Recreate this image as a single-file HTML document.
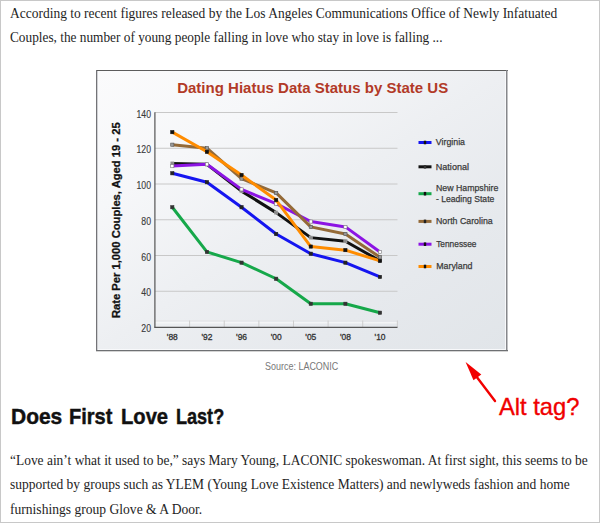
<!DOCTYPE html>
<html><head><meta charset="utf-8"><style>
html,body{margin:0;padding:0;background:#fff;overflow:hidden;}
#page{position:relative;width:600px;height:523px;}
svg{display:block;position:absolute;left:0;top:0;}
.t{position:absolute;display:block;margin:0;padding:0;white-space:nowrap;transform-origin:0 0;}
.hd,.pp{margin:0;padding:0;font-size:0;}
</style></head><body>
<div id="page">
<svg width="600" height="523" viewBox="0 0 600 523">
<defs><linearGradient id="bg" x1="0" y1="0" x2="1" y2="1"><stop offset="0" stop-color="#fbfbfc"/><stop offset="0.25" stop-color="#f6f7f9"/><stop offset="0.5" stop-color="#edeff2"/><stop offset="0.75" stop-color="#e6e9ed"/><stop offset="1" stop-color="#e1e5e9"/></linearGradient></defs>
<rect x="0.5" y="0.5" width="599" height="522" fill="#fff" stroke="#c8c8c8" stroke-width="1"/>
<rect x="97" y="71" width="409" height="279" fill="url(#bg)"/>
<line x1="505.5" y1="71" x2="505.5" y2="350" stroke="#f8f9fb" stroke-width="1"/>
<line x1="97" y1="349.5" x2="506" y2="349.5" stroke="#f8f9fb" stroke-width="1"/>
<line x1="97.5" y1="71" x2="97.5" y2="350" stroke="#d0d1d4" stroke-width="1"/>
<line x1="96" y1="70.5" x2="508" y2="70.5" stroke="#5c5c5c" stroke-width="1"/>
<line x1="96.5" y1="70" x2="96.5" y2="351" stroke="#737377" stroke-width="1"/>
<line x1="506.75" y1="70" x2="506.75" y2="351" stroke="#86878b" stroke-width="1.5"/>
<line x1="96" y1="350.5" x2="508" y2="350.5" stroke="#6e7073" stroke-width="1"/>
<line x1="96" y1="351.5" x2="508" y2="351.5" stroke="#d4d4d4" stroke-width="1"/>
<text x="177.20" y="92.60" font-family="Liberation Sans" font-weight="bold" font-size="15" fill="#b23a27" textLength="271.00" lengthAdjust="spacingAndGlyphs">Dating Hiatus Data Status by State US</text>
<line x1="155" y1="291.25" x2="397.5" y2="291.25" stroke="#c8c8c8" stroke-width="1"/>
<line x1="155" y1="255.50" x2="397.5" y2="255.50" stroke="#c8c8c8" stroke-width="1"/>
<line x1="155" y1="219.75" x2="397.5" y2="219.75" stroke="#c8c8c8" stroke-width="1"/>
<line x1="155" y1="184.00" x2="397.5" y2="184.00" stroke="#c8c8c8" stroke-width="1"/>
<line x1="155" y1="148.25" x2="397.5" y2="148.25" stroke="#c8c8c8" stroke-width="1"/>
<line x1="155" y1="112.50" x2="397.5" y2="112.50" stroke="#c8c8c8" stroke-width="1"/>
<line x1="155" y1="320.8" x2="397.5" y2="320.8" stroke="#e3e4e6" stroke-width="0.8"/>
<line x1="155" y1="322.8" x2="397.5" y2="322.8" stroke="#fafafa" stroke-width="1"/>
<line x1="189.62" y1="320.5" x2="189.62" y2="327" stroke="#cdcdcd" stroke-width="1"/>
<line x1="224.24" y1="320.5" x2="224.24" y2="327" stroke="#cdcdcd" stroke-width="1"/>
<line x1="258.86" y1="320.5" x2="258.86" y2="327" stroke="#cdcdcd" stroke-width="1"/>
<line x1="293.48" y1="320.5" x2="293.48" y2="327" stroke="#cdcdcd" stroke-width="1"/>
<line x1="328.10" y1="320.5" x2="328.10" y2="327" stroke="#cdcdcd" stroke-width="1"/>
<line x1="362.72" y1="320.5" x2="362.72" y2="327" stroke="#cdcdcd" stroke-width="1"/>
<line x1="397.34" y1="320.5" x2="397.34" y2="327" stroke="#cdcdcd" stroke-width="1"/>
<line x1="154.9" y1="112.2" x2="154.9" y2="327.8" stroke="#555" stroke-width="1.2"/>
<line x1="154.4" y1="327.4" x2="397.5" y2="327.4" stroke="#555" stroke-width="1.2"/>
<text x="141.30" y="332.10" font-family="Liberation Sans" font-size="10" fill="#3a3a3a" textLength="9.70" lengthAdjust="spacingAndGlyphs" stroke="#3a3a3a" stroke-width="0.12">20</text>
<text x="141.30" y="296.35" font-family="Liberation Sans" font-size="10" fill="#3a3a3a" textLength="9.70" lengthAdjust="spacingAndGlyphs" stroke="#3a3a3a" stroke-width="0.12">40</text>
<text x="141.30" y="260.60" font-family="Liberation Sans" font-size="10" fill="#3a3a3a" textLength="9.70" lengthAdjust="spacingAndGlyphs" stroke="#3a3a3a" stroke-width="0.12">60</text>
<text x="141.30" y="224.85" font-family="Liberation Sans" font-size="10" fill="#3a3a3a" textLength="9.70" lengthAdjust="spacingAndGlyphs" stroke="#3a3a3a" stroke-width="0.12">80</text>
<text x="136.50" y="189.10" font-family="Liberation Sans" font-size="10" fill="#3a3a3a" textLength="14.50" lengthAdjust="spacingAndGlyphs" stroke="#3a3a3a" stroke-width="0.12">100</text>
<text x="136.50" y="153.35" font-family="Liberation Sans" font-size="10" fill="#3a3a3a" textLength="14.50" lengthAdjust="spacingAndGlyphs" stroke="#3a3a3a" stroke-width="0.12">120</text>
<text x="136.50" y="117.60" font-family="Liberation Sans" font-size="10" fill="#3a3a3a" textLength="14.50" lengthAdjust="spacingAndGlyphs" stroke="#3a3a3a" stroke-width="0.12">140</text>
<text x="166.80" y="339.80" font-family="Liberation Sans" font-size="8.8" fill="#333" textLength="11.00" lengthAdjust="spacingAndGlyphs" stroke="#333" stroke-width="0.3">'88</text>
<text x="201.42" y="339.80" font-family="Liberation Sans" font-size="8.8" fill="#333" textLength="11.00" lengthAdjust="spacingAndGlyphs" stroke="#333" stroke-width="0.3">'92</text>
<text x="236.04" y="339.80" font-family="Liberation Sans" font-size="8.8" fill="#333" textLength="11.00" lengthAdjust="spacingAndGlyphs" stroke="#333" stroke-width="0.3">'96</text>
<text x="270.66" y="339.80" font-family="Liberation Sans" font-size="8.8" fill="#333" textLength="11.00" lengthAdjust="spacingAndGlyphs" stroke="#333" stroke-width="0.3">'00</text>
<text x="305.28" y="339.80" font-family="Liberation Sans" font-size="8.8" fill="#333" textLength="11.00" lengthAdjust="spacingAndGlyphs" stroke="#333" stroke-width="0.3">'05</text>
<text x="339.90" y="339.80" font-family="Liberation Sans" font-size="8.8" fill="#333" textLength="11.00" lengthAdjust="spacingAndGlyphs" stroke="#333" stroke-width="0.3">'08</text>
<text x="374.52" y="339.80" font-family="Liberation Sans" font-size="8.8" fill="#333" textLength="11.00" lengthAdjust="spacingAndGlyphs" stroke="#333" stroke-width="0.3">'10</text>
<g transform="translate(119.7,318.1) rotate(-90)"><text x="0.00" y="0.00" font-family="Liberation Sans" font-weight="bold" font-size="11.5" fill="#111" textLength="195.80" lengthAdjust="spacingAndGlyphs" stroke="#111" stroke-width="0.3">Rate Per 1,000 Couples, Aged 19 - 25</text></g>
<polyline points="172.30,207.24 206.92,251.93 241.54,262.65 276.16,278.74 310.78,303.76 345.40,303.76 380.02,312.70" fill="none" stroke="#16a84a" stroke-width="3" stroke-linejoin="round"/>
<rect x="170.70" y="205.64" width="3.2" height="3.2" fill="#333" stroke="#333" stroke-width="0.6"/>
<rect x="205.32" y="250.33" width="3.2" height="3.2" fill="#333" stroke="#333" stroke-width="0.6"/>
<rect x="239.94" y="261.05" width="3.2" height="3.2" fill="#333" stroke="#333" stroke-width="0.6"/>
<rect x="274.56" y="277.14" width="3.2" height="3.2" fill="#333" stroke="#333" stroke-width="0.6"/>
<rect x="309.18" y="302.16" width="3.2" height="3.2" fill="#333" stroke="#333" stroke-width="0.6"/>
<rect x="343.80" y="302.16" width="3.2" height="3.2" fill="#333" stroke="#333" stroke-width="0.6"/>
<rect x="378.42" y="311.10" width="3.2" height="3.2" fill="#333" stroke="#333" stroke-width="0.6"/>
<polyline points="172.30,173.28 206.92,182.21 241.54,207.24 276.16,234.05 310.78,253.71 345.40,262.65 380.02,276.95" fill="none" stroke="#1515f0" stroke-width="3" stroke-linejoin="round"/>
<rect x="170.70" y="171.68" width="3.2" height="3.2" fill="#222" stroke="#222" stroke-width="0.6"/>
<rect x="205.32" y="180.61" width="3.2" height="3.2" fill="#222" stroke="#222" stroke-width="0.6"/>
<rect x="239.94" y="205.64" width="3.2" height="3.2" fill="#222" stroke="#222" stroke-width="0.6"/>
<rect x="274.56" y="232.45" width="3.2" height="3.2" fill="#222" stroke="#222" stroke-width="0.6"/>
<rect x="309.18" y="252.11" width="3.2" height="3.2" fill="#222" stroke="#222" stroke-width="0.6"/>
<rect x="343.80" y="261.05" width="3.2" height="3.2" fill="#222" stroke="#222" stroke-width="0.6"/>
<rect x="378.42" y="275.35" width="3.2" height="3.2" fill="#222" stroke="#222" stroke-width="0.6"/>
<polyline points="172.30,163.44 206.92,164.34 241.54,191.15 276.16,212.60 310.78,237.62 345.40,241.20 380.02,260.86" fill="none" stroke="#111111" stroke-width="3" stroke-linejoin="round"/>
<rect x="170.70" y="161.84" width="3.2" height="3.2" fill="#8a8a8a" stroke="#aaa" stroke-width="0.6"/>
<rect x="205.32" y="162.74" width="3.2" height="3.2" fill="#8a8a8a" stroke="#aaa" stroke-width="0.6"/>
<rect x="239.94" y="189.55" width="3.2" height="3.2" fill="#8a8a8a" stroke="#aaa" stroke-width="0.6"/>
<rect x="274.56" y="211.00" width="3.2" height="3.2" fill="#8a8a8a" stroke="#aaa" stroke-width="0.6"/>
<rect x="309.18" y="236.03" width="3.2" height="3.2" fill="#8a8a8a" stroke="#aaa" stroke-width="0.6"/>
<rect x="343.80" y="239.60" width="3.2" height="3.2" fill="#8a8a8a" stroke="#aaa" stroke-width="0.6"/>
<rect x="378.42" y="259.26" width="3.2" height="3.2" fill="#8a8a8a" stroke="#aaa" stroke-width="0.6"/>
<polyline points="172.30,166.12 206.92,164.34 241.54,189.36 276.16,203.66 310.78,221.54 345.40,226.90 380.02,251.93" fill="none" stroke="#8c14e4" stroke-width="3" stroke-linejoin="round"/>
<rect x="170.70" y="164.53" width="3.2" height="3.2" fill="#fff" stroke="#777" stroke-width="0.6"/>
<rect x="205.32" y="162.74" width="3.2" height="3.2" fill="#fff" stroke="#777" stroke-width="0.6"/>
<rect x="239.94" y="187.76" width="3.2" height="3.2" fill="#fff" stroke="#777" stroke-width="0.6"/>
<rect x="274.56" y="202.06" width="3.2" height="3.2" fill="#fff" stroke="#777" stroke-width="0.6"/>
<rect x="309.18" y="219.94" width="3.2" height="3.2" fill="#fff" stroke="#777" stroke-width="0.6"/>
<rect x="343.80" y="225.30" width="3.2" height="3.2" fill="#fff" stroke="#777" stroke-width="0.6"/>
<rect x="378.42" y="250.33" width="3.2" height="3.2" fill="#fff" stroke="#777" stroke-width="0.6"/>
<polyline points="172.30,144.67 206.92,148.25 241.54,178.64 276.16,192.94 310.78,226.90 345.40,234.05 380.02,257.29" fill="none" stroke="#946a38" stroke-width="3" stroke-linejoin="round"/>
<rect x="170.70" y="143.07" width="3.2" height="3.2" fill="#999" stroke="#555" stroke-width="0.6"/>
<rect x="205.32" y="146.65" width="3.2" height="3.2" fill="#999" stroke="#555" stroke-width="0.6"/>
<rect x="239.94" y="177.04" width="3.2" height="3.2" fill="#999" stroke="#555" stroke-width="0.6"/>
<rect x="274.56" y="191.34" width="3.2" height="3.2" fill="#999" stroke="#555" stroke-width="0.6"/>
<rect x="309.18" y="225.30" width="3.2" height="3.2" fill="#999" stroke="#555" stroke-width="0.6"/>
<rect x="343.80" y="232.45" width="3.2" height="3.2" fill="#999" stroke="#555" stroke-width="0.6"/>
<rect x="378.42" y="255.69" width="3.2" height="3.2" fill="#999" stroke="#555" stroke-width="0.6"/>
<polyline points="172.30,132.16 206.92,151.82 241.54,175.06 276.16,200.09 310.78,246.56 345.40,250.14 380.02,260.86" fill="none" stroke="#ff8c00" stroke-width="3" stroke-linejoin="round"/>
<rect x="170.70" y="130.56" width="3.2" height="3.2" fill="#111" stroke="#111" stroke-width="0.6"/>
<rect x="205.32" y="150.22" width="3.2" height="3.2" fill="#111" stroke="#111" stroke-width="0.6"/>
<rect x="239.94" y="173.46" width="3.2" height="3.2" fill="#111" stroke="#111" stroke-width="0.6"/>
<rect x="274.56" y="198.49" width="3.2" height="3.2" fill="#111" stroke="#111" stroke-width="0.6"/>
<rect x="309.18" y="244.96" width="3.2" height="3.2" fill="#111" stroke="#111" stroke-width="0.6"/>
<rect x="343.80" y="248.54" width="3.2" height="3.2" fill="#111" stroke="#111" stroke-width="0.6"/>
<rect x="378.42" y="259.26" width="3.2" height="3.2" fill="#111" stroke="#111" stroke-width="0.6"/>
<line x1="418.5" y1="142.5" x2="431.5" y2="142.5" stroke="#1515f0" stroke-width="3"/>
<rect x="423.8" y="140.7" width="2.4" height="3.6" fill="#111"/>
<line x1="418.5" y1="166.8" x2="431.5" y2="166.8" stroke="#111" stroke-width="3"/>
<rect x="423.8" y="165.0" width="2.4" height="3.6" fill="#333"/>
<line x1="418.5" y1="193.7" x2="431.5" y2="193.7" stroke="#16a84a" stroke-width="3"/>
<rect x="423.8" y="191.89999999999998" width="2.4" height="3.6" fill="#111"/>
<line x1="418.5" y1="221.4" x2="431.5" y2="221.4" stroke="#946a38" stroke-width="3"/>
<rect x="423.8" y="219.6" width="2.4" height="3.6" fill="#222"/>
<line x1="418.5" y1="244.2" x2="431.5" y2="244.2" stroke="#8c14e4" stroke-width="3"/>
<rect x="423.8" y="242.39999999999998" width="2.4" height="3.6" fill="#111"/>
<line x1="418.5" y1="266.5" x2="431.5" y2="266.5" stroke="#ff8c00" stroke-width="3"/>
<rect x="423.8" y="264.7" width="2.4" height="3.6" fill="#111"/>
<text x="435.80" y="144.70" font-family="Liberation Sans" font-size="9.4" fill="#3a3a3a" textLength="29.19" lengthAdjust="spacingAndGlyphs" stroke="#3a3a3a" stroke-width="0.25">Virginia</text>
<text x="435.80" y="169.50" font-family="Liberation Sans" font-size="9.4" fill="#3a3a3a" textLength="33.20" lengthAdjust="spacingAndGlyphs" stroke="#3a3a3a" stroke-width="0.25">National</text>
<text x="436.00" y="190.70" font-family="Liberation Sans" font-size="9.4" fill="#3a3a3a" textLength="62.30" lengthAdjust="spacingAndGlyphs" stroke="#3a3a3a" stroke-width="0.25">New Hampshire</text>
<text x="436.00" y="201.60" font-family="Liberation Sans" font-size="9.4" fill="#3a3a3a" textLength="58.30" lengthAdjust="spacingAndGlyphs" stroke="#3a3a3a" stroke-width="0.25">- Leading State</text>
<text x="436.00" y="224.00" font-family="Liberation Sans" font-size="9.4" fill="#3a3a3a" textLength="56.69" lengthAdjust="spacingAndGlyphs" stroke="#3a3a3a" stroke-width="0.25">North Carolina</text>
<text x="436.20" y="246.80" font-family="Liberation Sans" font-size="9.4" fill="#3a3a3a" textLength="40.30" lengthAdjust="spacingAndGlyphs" stroke="#3a3a3a" stroke-width="0.25">Tennessee</text>
<text x="436.20" y="268.50" font-family="Liberation Sans" font-size="9.4" fill="#3a3a3a" textLength="36.30" lengthAdjust="spacingAndGlyphs" stroke="#3a3a3a" stroke-width="0.25">Maryland</text>
<line x1="495" y1="401" x2="476" y2="376" stroke="#f20000" stroke-width="2.4" stroke-linecap="round"/>
<polygon points="465.6,361.9 481.3,374.6 473.5,380.2" fill="#f20000"/>
</svg>
<div class="t" style="left:265.30px;top:360.33px;font:normal 10.3px/13px 'Liberation Sans',sans-serif;color:#787878;transform:scaleX(0.8712);">Source: LACONIC</div>
<div class="t" style="left:498.80px;top:393.09px;font:normal 23.4px/29px 'Liberation Sans',sans-serif;color:#f00000;transform:scaleX(1.0132);-webkit-text-stroke:0.35px #f00000;">Alt tag?</div>
<h2 class="hd"><span class="t" style="left:10.70px;top:402.81px;font:bold 22.2px/28px 'Liberation Sans',sans-serif;color:#111;transform:scaleX(0.9451);-webkit-text-stroke:0.45px #111;">Does</span> <span class="t" style="left:69.30px;top:402.81px;font:bold 22.2px/28px 'Liberation Sans',sans-serif;color:#111;transform:scaleX(0.9021);-webkit-text-stroke:0.45px #111;">First</span> <span class="t" style="left:120.90px;top:402.81px;font:bold 22.2px/28px 'Liberation Sans',sans-serif;color:#111;transform:scaleX(0.9090);-webkit-text-stroke:0.45px #111;">Love</span> <span class="t" style="left:176.10px;top:402.81px;font:bold 22.2px/28px 'Liberation Sans',sans-serif;color:#111;transform:scaleX(0.8141);-webkit-text-stroke:0.45px #111;">Last?</span></h2>
<p class="pp"><span class="t" style="left:10.00px;top:4.91px;font:normal 13.6px/17px 'Liberation Serif',serif;color:#1e1e1e;transform:scaleX(0.9914);">According to recent figures released by the Los Angeles Communications Office of Newly Infatuated</span> <span class="t" style="left:10.00px;top:28.91px;font:normal 13.6px/17px 'Liberation Serif',serif;color:#1e1e1e;transform:scaleX(0.9783);">Couples, the number of young people falling in love who stay in love is falling ...</span></p>
<p class="pp"><span class="t" style="left:10.00px;top:451.71px;font:normal 13.6px/17px 'Liberation Serif',serif;color:#1e1e1e;transform:scaleX(0.9883);">“Love ain’t what it used to be,” says Mary Young, LACONIC spokeswoman. At first sight, this seems to be</span> <span class="t" style="left:10.00px;top:476.01px;font:normal 13.6px/17px 'Liberation Serif',serif;color:#1e1e1e;transform:scaleX(0.9930);">supported by groups such as YLEM (Young Love Existence Matters) and newlyweds fashion and home</span> <span class="t" style="left:10.00px;top:500.61px;font:normal 13.6px/17px 'Liberation Serif',serif;color:#1e1e1e;transform:scaleX(0.9981);">furnishings group Glove &amp; A Door.</span></p>
</div>
</body></html>
